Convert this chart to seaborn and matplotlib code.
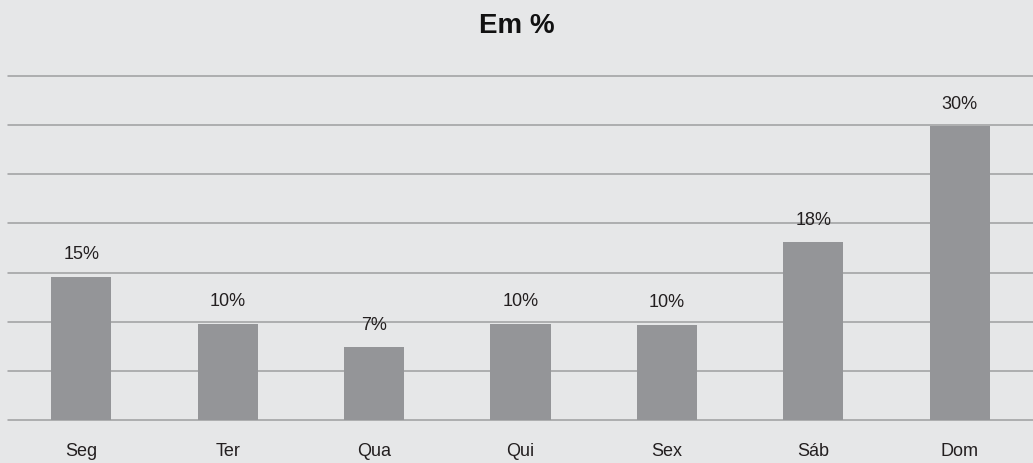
import matplotlib
matplotlib.use("Agg")
import matplotlib.pyplot as plt
import seaborn as sns
import pandas as pd
from matplotlib.ticker import MultipleLocator

days = ["Seg", "Ter", "Qua", "Qui", "Sex", "Sáb", "Dom"]
values = [14.6, 9.8, 7.4, 9.8, 9.7, 18.1, 29.9]
labels = ["15%", "10%", "7%", "10%", "10%", "18%", "30%"]
title = "Em %"

bg = "#e6e7e8"
bar_color = "#949598"
text_color = "#231f20"

sns.set_theme(style="white")
plt.rcParams['font.family'] = ['Liberation Sans', 'DejaVu Sans']

fig = plt.figure(figsize=(10.33, 4.64), dpi=100, facecolor=bg)
ax = fig.add_axes([8/1033, 43/464, 1 - 8/1033, (421 - 77)/464])
ax.set_facecolor(bg)

df = pd.DataFrame({"day": days, "value": values})
sns.barplot(data=df, x="day", y="value", color=bar_color, saturation=1,
            width=0.41, ax=ax, zorder=3, linewidth=0, edgecolor=bar_color)

ax.set_ylim(0, 35)
ax.yaxis.set_major_locator(MultipleLocator(5))
ax.grid(axis="y", color="#9d9ea0", linewidth=1.1, zorder=0)
ax.grid(axis="x", visible=False)
for line in ax.get_ygridlines():
    line.set_clip_on(False)
for s in ax.spines.values():
    s.set_visible(False)
ax.set_yticklabels([])
ax.tick_params(axis="y", length=0)
ax.tick_params(axis="x", length=0, pad=16, labelsize=13, labelcolor=text_color)
ax.set_xlabel("")
ax.set_ylabel("")

for i, (v, lab) in enumerate(zip(values, labels)):
    ax.annotate(lab, (i, v), xytext=(0, 16.5), textcoords="offset points",
                ha="center", va="center", fontsize=13, color=text_color)

fig.text(0.5, 1 - 26/464, title, ha="center", va="center", fontsize=20,
         fontweight="bold", color="#111111")

fig.savefig("out.png", dpi=100, facecolor=bg)
